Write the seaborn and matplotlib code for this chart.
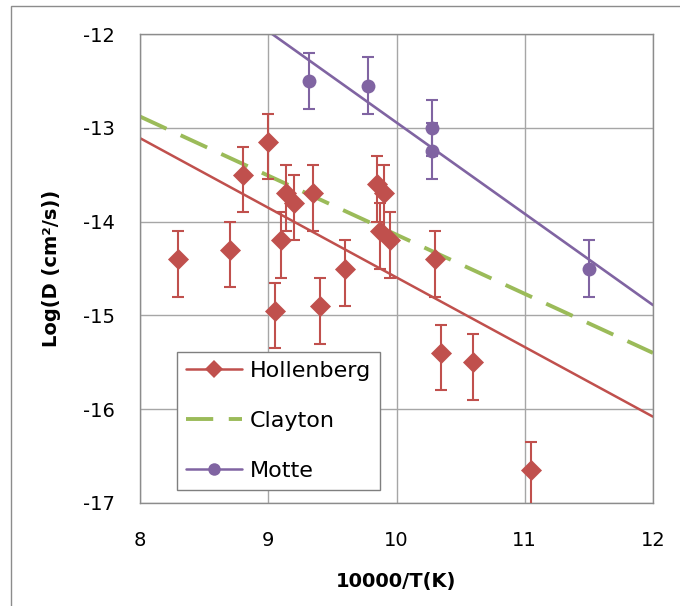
import matplotlib
matplotlib.use("Agg")
import matplotlib.pyplot as plt
import seaborn as sns
import pandas as pd
from matplotlib.lines import Line2D
from matplotlib.patches import Rectangle

# ---- data ----
holl_x = [8.30, 8.70, 8.80, 9.00, 9.05, 9.10, 9.14, 9.20, 9.35, 9.40,
          9.60, 9.85, 9.90, 9.87, 9.95, 10.30, 10.35, 10.60, 11.05]
holl_y = [-14.40, -14.30, -13.50, -13.15, -14.95, -14.20, -13.70, -13.80, -13.70, -14.90,
          -14.50, -13.60, -13.70, -14.10, -14.20, -14.40, -15.40, -15.50, -16.65]
holl_err_up = 0.30
holl_err_down = 0.40

motte_x = [9.32, 9.78, 10.28, 10.28, 11.50]
motte_y = [-12.50, -12.55, -13.00, -13.25, -14.50]
motte_err = 0.30

holl_fit_x = [8.0, 12.0]
holl_fit_y = [-13.11, -16.08]
clay_fit_x = [8.0, 12.0]
clay_fit_y = [-12.88, -15.40]
motte_fit_x = [9.03, 12.0]
motte_fit_y = [-12.00, -14.89]

series_names = ["Hollenberg", "Clayton", "Motte"]
x_ticks = [8, 9, 10, 11, 12]
y_ticks = [-12, -13, -14, -15, -16, -17]

RED = "#C0504D"
GREEN = "#9BBB59"
PURPLE = "#8064A2"
GRID = "#A6A6A6"

sns.set_style("white")
plt.rcParams['font.family'] = ['DejaVu Sans']

fig = plt.figure(figsize=(6.8, 6.06), dpi=100)
ax = fig.add_axes([140/680, 1-503/606, 513/680, 469/606])

# outer chart border
fig.patches.append(Rectangle((11/680, -0.1), 1.2, 1.1 - 6/606, transform=fig.transFigure,
                             fill=False, edgecolor="#8C8C8C", linewidth=1.0, clip_on=False))

# fitted lines
sns.lineplot(x=holl_fit_x, y=holl_fit_y, ax=ax, color=RED, linewidth=1.8, zorder=2)
sns.lineplot(x=motte_fit_x, y=motte_fit_y, ax=ax, color=PURPLE, linewidth=1.9, zorder=2)
sns.lineplot(x=clay_fit_x, y=clay_fit_y, ax=ax, color=GREEN, linewidth=2.8, zorder=2)
ax.lines[-1].set_dashes((7.5, 4))

# error bars
ax.errorbar(holl_x, holl_y, yerr=[[holl_err_down]*len(holl_x), [holl_err_up]*len(holl_x)],
            fmt='none', ecolor=RED, elinewidth=1.5, capsize=4, capthick=1.5, zorder=3)
ax.errorbar(motte_x, motte_y, yerr=motte_err,
            fmt='none', ecolor=PURPLE, elinewidth=1.5, capsize=4, capthick=1.5, zorder=3)

# markers
hdf = pd.DataFrame({"x": holl_x, "y": holl_y})
mdf = pd.DataFrame({"x": motte_x, "y": motte_y})
sns.scatterplot(data=hdf, x="x", y="y", ax=ax, marker="D", s=115, color=RED,
                edgecolor=RED, linewidth=0, zorder=4)
sns.scatterplot(data=mdf, x="x", y="y", ax=ax, marker="o", s=100, color=PURPLE,
                edgecolor=PURPLE, linewidth=0, zorder=4)

ax.set_xlim(8, 12)
ax.set_ylim(-17, -12)
ax.set_xticks(x_ticks)
ax.set_yticks(y_ticks)
ax.set_xticklabels([str(t) for t in x_ticks])
ax.set_yticklabels([str(t) for t in y_ticks])
ax.grid(True, color=GRID, linewidth=1.0)
ax.set_axisbelow(True)
for s in ax.spines.values():
    s.set_color("#8C8C8C")
    s.set_linewidth(1.0)
ax.tick_params(axis='both', which='both', direction='out', length=6, width=1.0,
               color="#8C8C8C", labelsize=14, labelcolor="black")
ax.tick_params(axis='y', pad=12)
ax.tick_params(axis='x', pad=14)
ax.set_xlabel("10000/T(K)", fontsize=14, fontweight='bold', labelpad=16, color="black")
ax.set_ylabel("Log(D (cm²/s))", fontsize=14, fontweight='bold', labelpad=16, color="black")

handles = [
    Line2D([0], [0], color=RED, lw=1.8, marker="D", markersize=9, markeredgewidth=0),
    Line2D([0], [0], color=GREEN, lw=2.8, dashes=(7, 4)),
    Line2D([0], [0], color=PURPLE, lw=1.8, marker="o", markersize=9, markeredgewidth=0),
]
leg = ax.legend(handles, series_names, loc="lower left", bbox_to_anchor=(0.072, 0.028),
                borderaxespad=0, fontsize=16, handlelength=2.55, handletextpad=0.32,
                labelspacing=1.35, borderpad=0.4, frameon=True, fancybox=False,
                edgecolor="#7F7F7F", framealpha=1)
leg.get_frame().set_linewidth(1.0)
for t in leg.get_texts():
    t.set_color("black")

fig.savefig("out.png", dpi=100)
